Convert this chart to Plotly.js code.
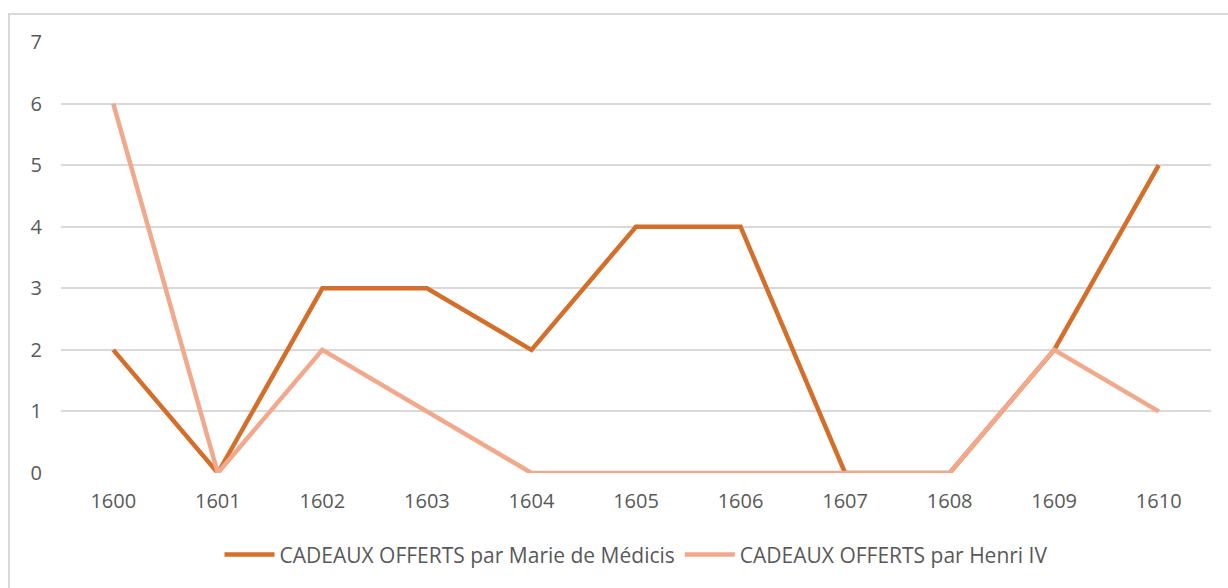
<!DOCTYPE html>
<html>
<head>
<meta charset="utf-8">
<script src="https://cdn.plot.ly/plotly-3.0.1.min.js"></script>
<style>
html,body{margin:0;padding:0;background:#fff;}
#wrap{position:relative;width:1228px;height:588px;overflow:hidden;}
#chart{width:1228px;height:588px;}
#frame{position:absolute;left:8px;top:13px;width:1240px;height:600px;border:2px solid #d9d9d9;pointer-events:none;box-sizing:border-box;}
</style>
</head>
<body>
<div id="wrap"><div id="chart"></div><div id="frame"></div></div>
<script>
const years = ['1600','1601','1602','1603','1604','1605','1606','1607','1608','1609','1610'];
const marieValues = [2,0,3,3,2,4,4,0,0,2,5];
const henriValues = [6,0,2,1,0,0,0,0,0,2,1];
const marieName = 'CADEAUX OFFERTS par Marie de Médicis';
const henriName = 'CADEAUX OFFERTS par Henri IV';

const traces = [
  {x: years, y: marieValues, name: marieName, type: 'scatter', mode: 'lines',
   line: {color: '#D46F2B', width: 4.5}},
  {x: years, y: henriValues, name: henriName, type: 'scatter', mode: 'lines',
   line: {color: '#F2A88B', width: 4.5}}
];

const layout = {
  width: 1228, height: 588,
  margin: {l: 61, r: 17, t: 42, b: 115},
  paper_bgcolor: '#ffffff', plot_bgcolor: '#ffffff',
  font: {family: 'Open Sans, sans-serif', size: 20, color: '#595959'},
  xaxis: {type: 'category', range: [-0.5, 10.5], showgrid: false, zeroline: false,
          showline: false, ticks: '', ticklabelstandoff: 14,
          tickfont: {size: 20, color: '#595959'}, fixedrange: true},
  yaxis: {range: [0, 7], dtick: 1, showgrid: true, gridcolor: '#d9d9d9', gridwidth: 2,
          zeroline: false, showline: false, ticks: '', ticklabelstandoff: 18,
          tickfont: {size: 20, color: '#595959'}, fixedrange: true},
  showlegend: true,
  legend: {orientation: 'h', x: 0.5, xanchor: 'center', y: -0.19, yanchor: 'middle',
           font: {size: 21, color: '#595959'}, itemwidth: 50, traceorder: 'normal'}
};

Plotly.newPlot('chart', traces, layout, {displayModeBar: false, staticPlot: true});
</script>
</body>
</html>
